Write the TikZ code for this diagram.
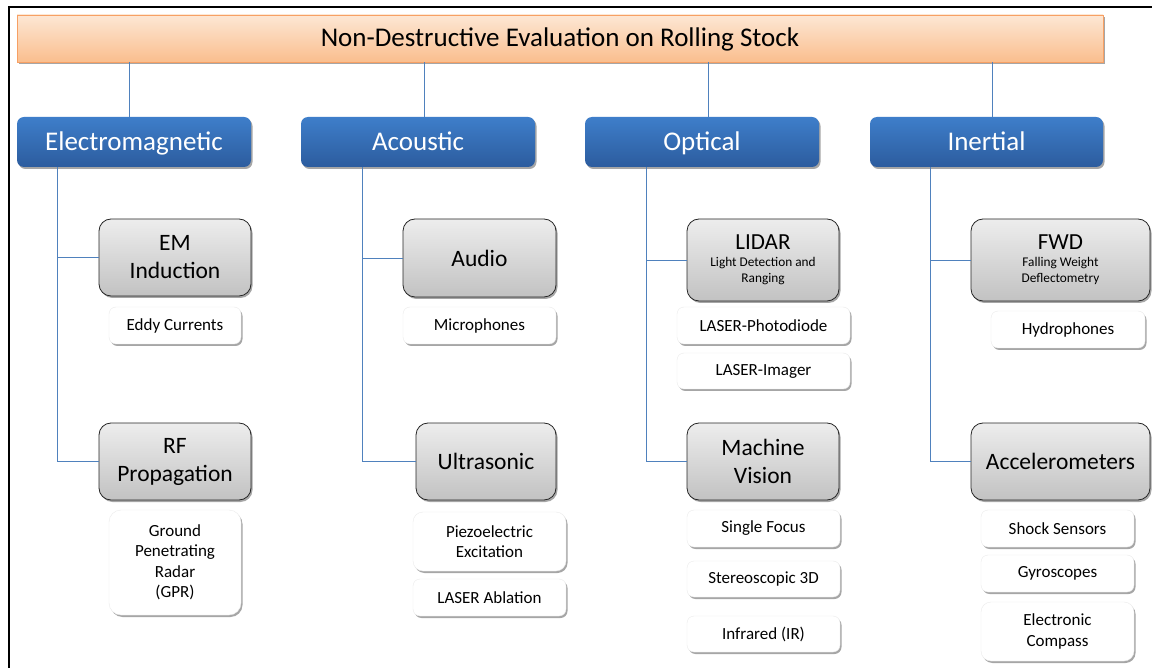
\documentclass[tikz,border=0pt]{standalone}
\usepackage{fontspec}
\setmainfont{Carlito}
\usetikzlibrary{shadows}
\definecolor{orTop}{RGB}{253,231,212}
\definecolor{orBot}{RGB}{250,190,142}
\definecolor{orEdge}{RGB}{247,160,100}
\definecolor{blTop}{RGB}{62,126,202}
\definecolor{blBot}{RGB}{44,92,158}
\definecolor{grTop}{RGB}{237,237,237}
\definecolor{grBot}{RGB}{194,194,194}
\definecolor{linkblue}{RGB}{79,129,189}
\begin{document}
\begin{tikzpicture}[x=1pt,y=-1pt,
  sh/.style={drop shadow={shadow xshift=1.5pt, shadow yshift=-2pt, opacity=0.35, fill=black}},
  conn/.style={draw=linkblue, line width=0.8pt},
  titlebox/.style={sh, draw=orEdge, line width=0.8pt, top color=orTop, bottom color=orBot,
    minimum width=1086pt, minimum height=47pt, inner sep=0pt, text height=22pt, text depth=6pt,
    font=\fontsize{27}{31}\selectfont},
  catbox/.style={sh, rounded corners=7pt, top color=blTop, bottom color=blBot, text=white,
    minimum width=234pt, minimum height=50pt, inner sep=0pt, text height=24pt, text depth=6pt,
    font=\fontsize{27}{31}\selectfont},
  subbox/.style={sh, rounded corners=12pt, draw=black!85, line width=0.8pt, top color=grTop, bottom color=grBot,
    minimum width=152pt, minimum height=77pt, inner sep=1pt, align=center, font=\fontsize{23.5}{28}\selectfont},
  leaf/.style={sh, rounded corners=7pt, fill=white, draw=black!8, line width=0.4pt,
    minimum width=153pt, minimum height=37pt, inner sep=1pt, align=center, font=\fontsize{17}{20.5}\selectfont},
  small/.style={font=\fontsize{13.3}{16.5}\selectfont}
]
\useasboundingbox (0,0) rectangle (1152,668);
\fill[white] (0,0) rectangle (1152,668);
\draw[line width=2.5pt] (9,668) -- (9,7) -- (1152,7);

\node[titlebox] (title) at (560,38.5) {Non-Destructive Evaluation on Rolling Stock};

\node[catbox] (cem) at (134,142) {Electromagnetic};
\node[catbox] (cac) at (418,142) {Acoustic};
\node[catbox] (cop) at (702,142) {Optical};
\node[catbox, minimum width=233pt] (cin) at (986.5,142) {Inertial};

\node[subbox] (emi) at (175,257.5) {EM\\Induction};
\node[subbox] (rfp) at (175,461.5) {RF\\Propagation};
\node[subbox, minimum width=153pt, minimum height=78pt] (aud) at (479.5,258) {Audio};
\node[subbox, minimum width=140pt] (ult) at (486,461.5) {Ultrasonic};
\node[subbox, small, minimum height=82pt] (lid) at (763,260) {{\fontsize{23}{23}\selectfont LIDAR}\\Light Detection and\\Ranging};
\node[subbox] (mav) at (763,461.5) {Machine\\Vision};
\node[subbox, small, minimum width=179pt, minimum height=82pt] (fwd) at (1060.5,260) {{\fontsize{23}{23}\selectfont FWD}\\Falling Weight\\Deflectometry};
\node[subbox, minimum width=179pt] (acc) at (1060.5,461.5) {Accelerometers};

\node[leaf, minimum width=132pt] (edd) at (175,325.5) {Eddy Currents};
\node[leaf, minimum width=132pt, minimum height=105pt, rounded corners=12pt] (gpr) at (175,562.5) {Ground\\Penetrating\\Radar\\(GPR)};
\node[leaf] (mic) at (479.5,325.5) {Microphones};
\node[leaf, minimum height=59pt, rounded corners=10pt] (pie) at (489.5,541.5) {Piezoelectric\\Excitation};
\node[leaf] (abl) at (489.5,597.5) {LASER Ablation};
\node[leaf, minimum width=173pt] (pho) at (763.5,325.5) {LASER-Photodiode};
\node[leaf, minimum width=173pt, minimum height=36pt] (img) at (763.5,371) {LASER-Imager};
\node[leaf] (sin) at (763.5,528.5) {Single Focus};
\node[leaf, minimum height=36pt] (ste) at (763.5,579) {Stereoscopic 3D};
\node[leaf, minimum height=36pt] (inf) at (763.5,634) {Infrared (IR)};
\node[leaf, minimum width=154pt] (hyd) at (1068,329.5) {Hydrophones};
\node[leaf] (sho) at (1057.5,528.5) {Shock Sensors};
\node[leaf] (gyr) at (1057.5,573.5) {Gyroscopes};
\node[leaf, minimum height=59pt, rounded corners=10pt] (ecp) at (1057.5,631.5) {Electronic\\Compass};

\draw[conn] ([xshift=-5pt]cem.north) -- ([xshift=-5pt]cem.north |- title.south);
\draw[conn] ([xshift=6pt]cac.north) -- ([xshift=6pt]cac.north |- title.south);
\draw[conn] ([xshift=6pt]cop.north) -- ([xshift=6pt]cop.north |- title.south);
\draw[conn] ([xshift=5.5pt]cin.north) -- ([xshift=5.5pt]cin.north |- title.south);

\draw[conn] ([xshift=41pt]cem.south west) |- (emi.west);
\draw[conn] ([xshift=41pt]cem.south west) |- (rfp.west);
\draw[conn] ([xshift=62pt]cac.south west) |- (aud.west);
\draw[conn] ([xshift=62pt]cac.south west) |- (ult.west);
\draw[conn] ([xshift=62pt]cop.south west) |- (lid.west);
\draw[conn] ([xshift=62pt]cop.south west) |- (mav.west);
\draw[conn] ([xshift=61pt]cin.south west) |- (fwd.west);
\draw[conn] ([xshift=61pt]cin.south west) |- (acc.west);
\end{tikzpicture}
\end{document}
